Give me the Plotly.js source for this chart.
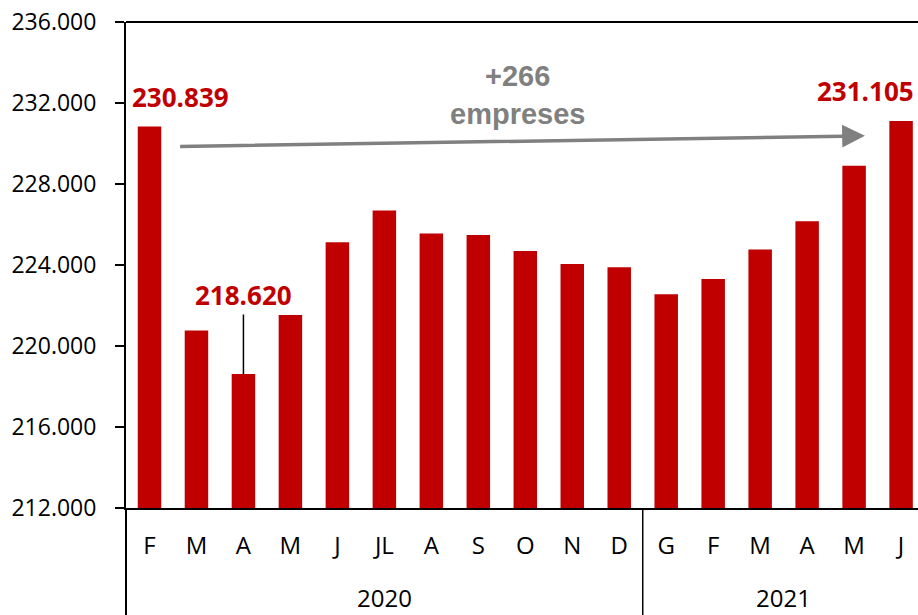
<!DOCTYPE html>
<html>
<head>
<meta charset="utf-8">
<script src="https://cdn.plot.ly/plotly-3.0.1.min.js"></script>
<style>html,body{margin:0;padding:0;background:#fff;}#chart{width:918px;height:615px;}</style>
</head>
<body>
<div id="chart"></div>
<script>
const months = ["F","M","A","M","J","JL","A","S","O","N","D","G","F","M","A","M","J"];
const years = ["2020","2020","2020","2020","2020","2020","2020","2020","2020","2020","2020","2021","2021","2021","2021","2021","2021"];
const companies = [230839, 220770, 218620, 221530, 225120, 226690, 225550, 225480, 224690, 224050, 223890, 222550, 223310, 224760, 226160, 228900, 231105];
const yTicks = [212000, 216000, 220000, 224000, 228000, 232000, 236000];
const changeText = "+266<br>empreses";

const idx = months.map((_, i) => i);
const red = "#C00000";
const fmt = v => v.toLocaleString("de-DE");

const iMin = companies.indexOf(Math.min(...companies));
const iFirst = 0, iLast = companies.length - 1;

// year groups
const groups = [...new Set(years)].map(y => {
  const ii = idx.filter(i => years[i] === y);
  return {year: y, center: (ii[0] + ii[ii.length - 1]) / 2, start: ii[0], end: ii[ii.length - 1]};
});

const labelFont = {family: "Open Sans", size: 26, color: red, weight: "bold"};
const annotations = [
  {x: iFirst, y: companies[iFirst], xref: "x", yref: "y", text: fmt(companies[iFirst]),
   showarrow: false, xanchor: "left", yanchor: "bottom", xshift: -19, yshift: 10, font: labelFont},
  {x: iLast, y: companies[iLast], xref: "x", yref: "y", text: fmt(companies[iLast]),
   showarrow: false, xanchor: "right", yanchor: "bottom", xshift: 15, yshift: 10, font: labelFont},
  {x: iMin, y: companies[iMin], xref: "x", yref: "y", text: fmt(companies[iMin]),
   showarrow: true, arrowhead: 0, arrowwidth: 1.5, arrowcolor: "#000", ax: 0, ay: -79,
   standoff: 0, startstandoff: 0, font: labelFont},
  {x: 7.84, y: 232400, xref: "x", yref: "y", text: changeText, showarrow: false,
   font: {family: "Liberation Sans, Arial", size: 29, color: "#808080", weight: "bold"}},
  {x: 15.23, y: 230380, xref: "x", yref: "y", ax: 0.62, ay: 229850, axref: "x", ayref: "y",
   text: "", showarrow: true, arrowhead: 2, arrowsize: 1.3, arrowwidth: 3.5, arrowcolor: "#808080",
   standoff: 0}
];
groups.forEach(g => annotations.push({
  x: g.center, y: 0, xref: "x", yref: "paper", yshift: -89, text: g.year, showarrow: false,
  yanchor: "middle", font: {family: "Open Sans", size: 24, color: "#000"}
}));

const shapes = [
  {type: "line", xref: "paper", yref: "paper", x0: 0, x1: 1, y0: 1, y1: 1, line: {color: "#000", width: 2}},
  {type: "line", xref: "paper", yref: "paper", x0: 0, x1: 0, y0: 0, y1: -0.3, line: {color: "#000", width: 2}}
];
groups.slice(1).forEach(g => shapes.push({
  type: "line", xref: "x", yref: "paper", x0: g.start - 0.5, x1: g.start - 0.5, y0: 0, y1: -0.3,
  line: {color: "#000", width: 1.5}
}));

const trace = {
  type: "bar", x: idx, y: companies, width: 0.5,
  marker: {color: red}, hoverinfo: "skip"
};

const layout = {
  width: 918, height: 615,
  margin: {l: 126, r: 0, t: 22, b: 107, pad: 0},
  paper_bgcolor: "#fff", plot_bgcolor: "#fff",
  separators: ",.",
  showlegend: false,
  font: {family: "Open Sans", color: "#000"},
  xaxis: {
    range: [-0.5, 16.36], tickvals: idx, ticktext: months, ticks: "",
    showgrid: false, zeroline: false, showline: true, linecolor: "#000", linewidth: 2,
    tickfont: {family: "Open Sans", size: 24, color: "#000"}, ticklabelstandoff: 15,
    fixedrange: true
  },
  yaxis: {
    range: [212000, 236000], tickvals: yTicks, ticktext: yTicks.map(fmt),
    ticks: "outside", ticklen: 9, tickwidth: 1.5, tickcolor: "#000",
    showgrid: false, zeroline: false, showline: true, linecolor: "#000", linewidth: 2,
    tickfont: {family: "Open Sans", size: 23, color: "#000"}, ticklabelstandoff: 14,
    fixedrange: true
  },
  annotations: annotations,
  shapes: shapes
};

Plotly.newPlot("chart", [trace], layout, {displayModeBar: false, staticPlot: true});
</script>
</body>
</html>
